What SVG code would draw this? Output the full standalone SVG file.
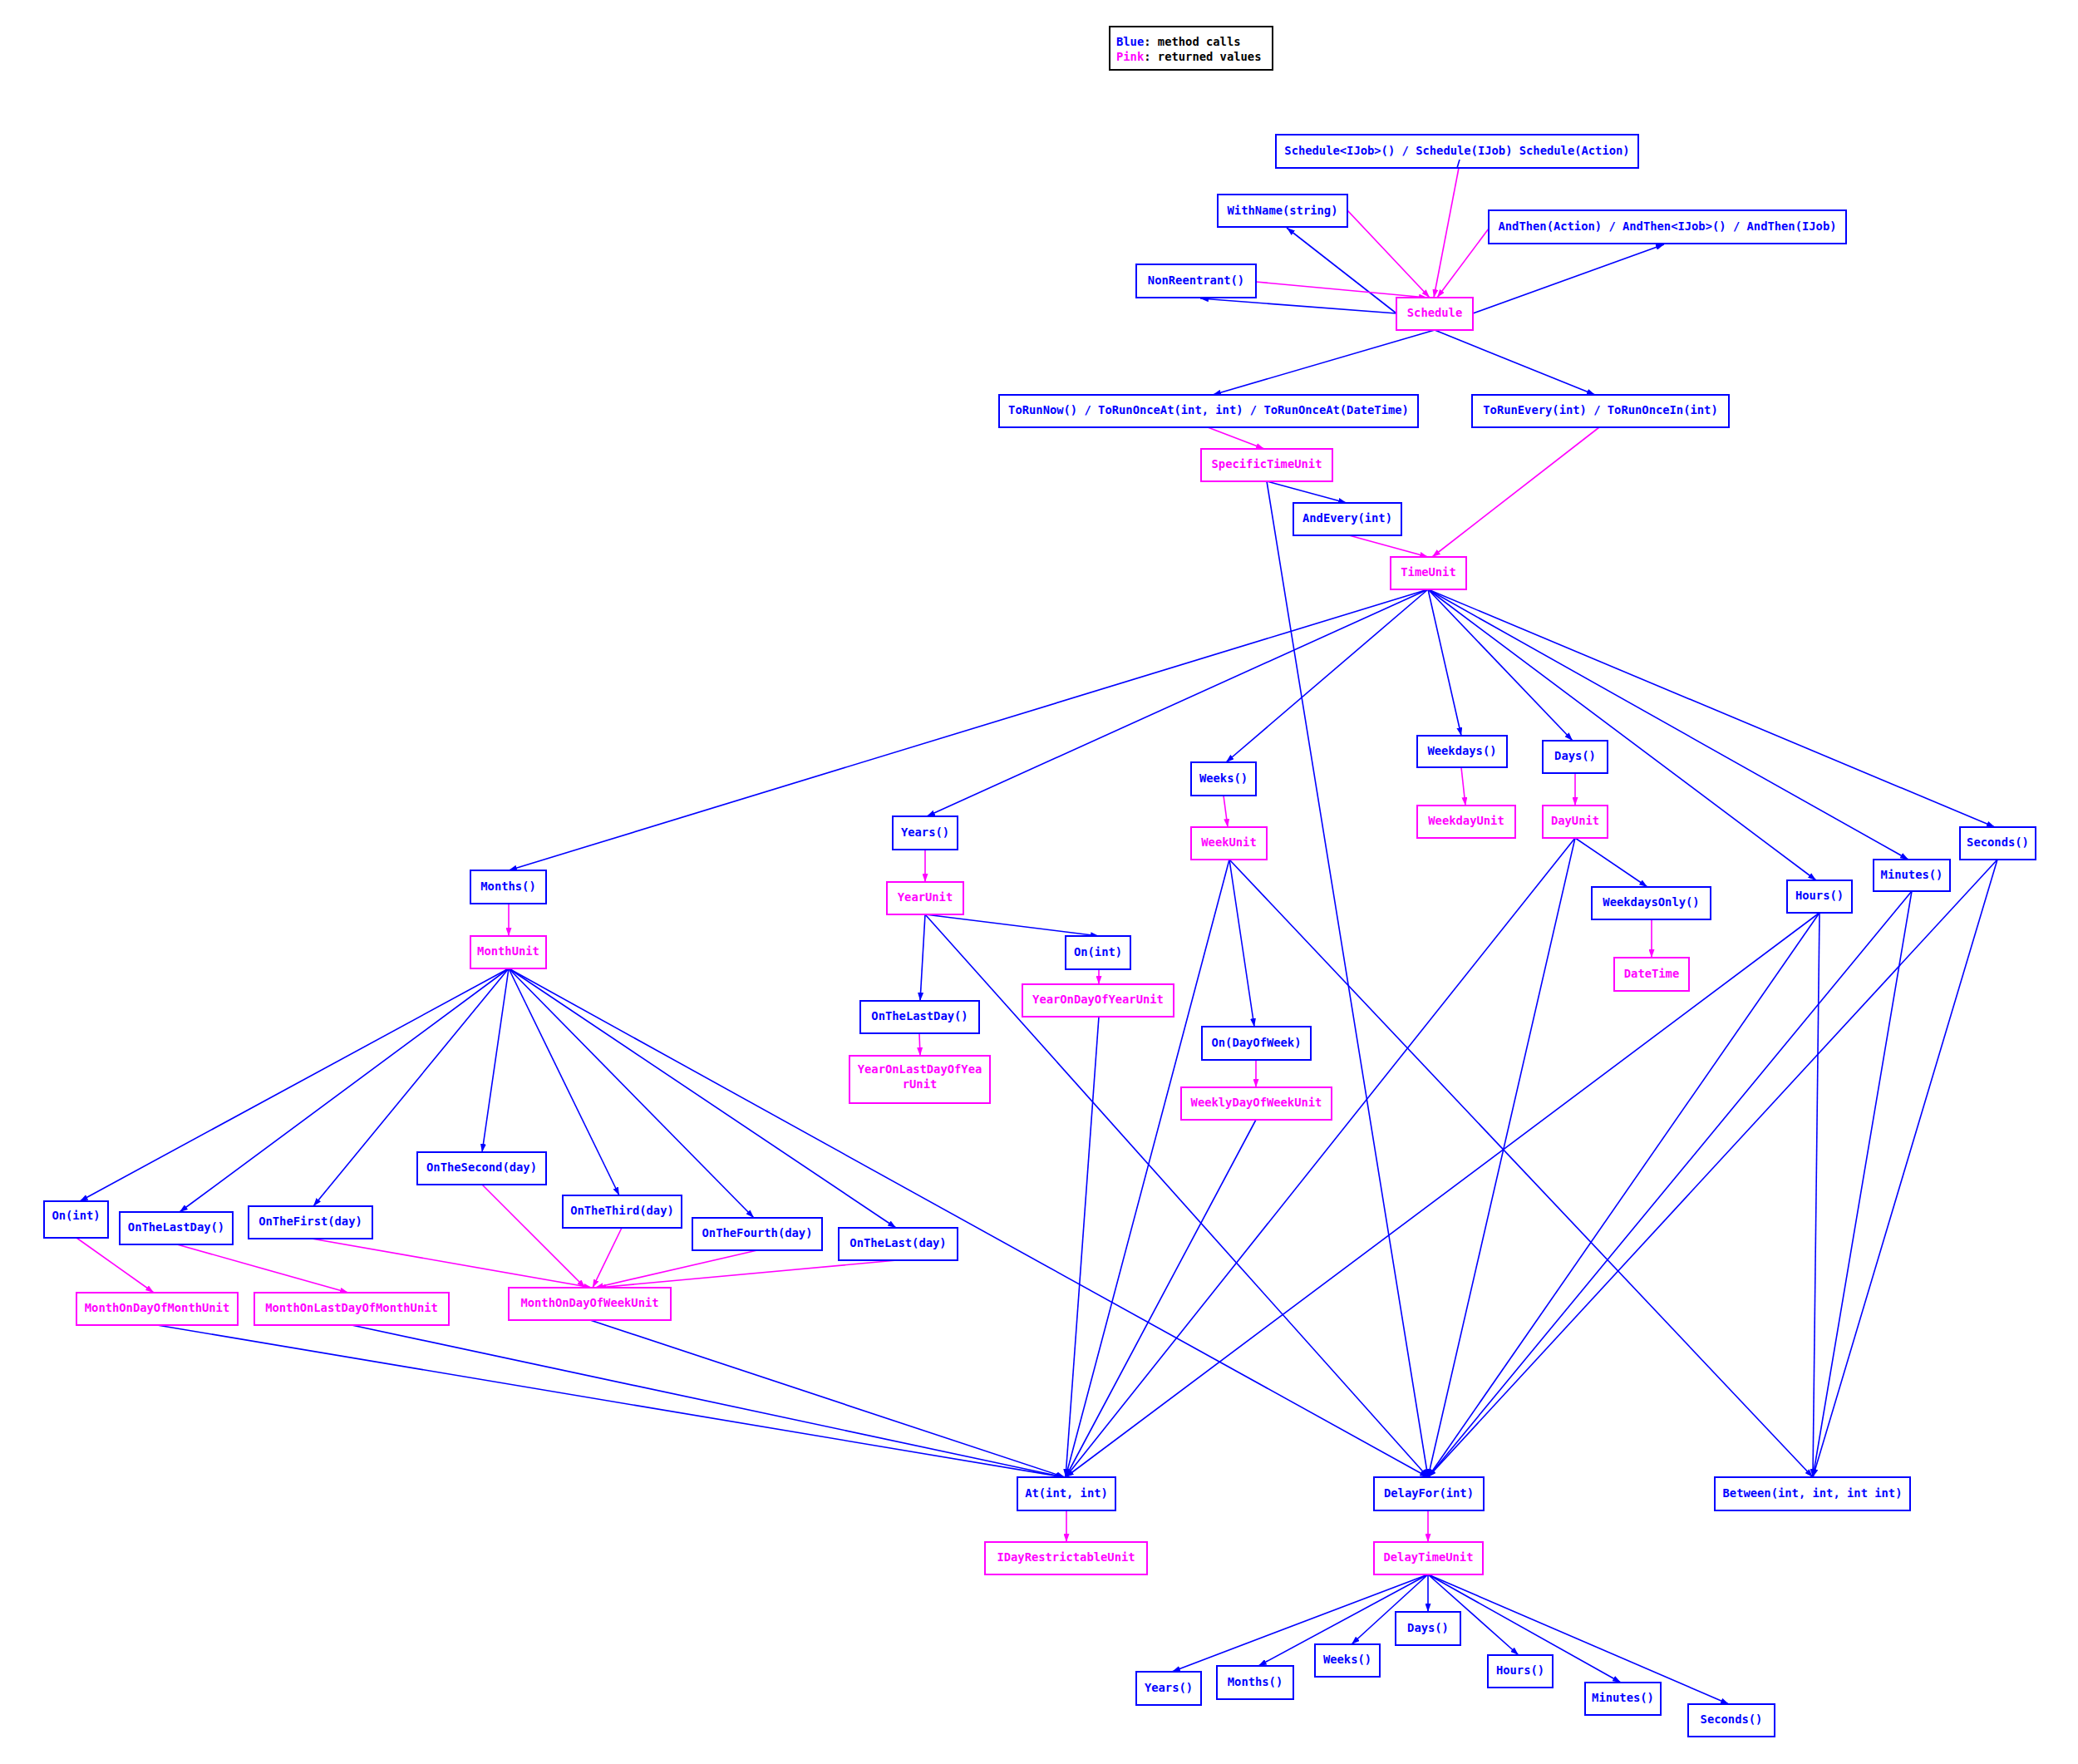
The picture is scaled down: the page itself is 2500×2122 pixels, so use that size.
<svg xmlns="http://www.w3.org/2000/svg" width="2500" height="2122" viewBox="0 0 2500 2122">
<defs>
<style>
text{font-family:"DejaVu Sans Mono","Liberation Mono",monospace;font-size:13.8px;font-weight:bold;text-anchor:middle}
.m rect{fill:#fff;stroke:#00f;stroke-width:2}
.m text{fill:#00f;transform:translateY(-1.5px)}
.r rect{fill:#fff;stroke:#f0f;stroke-width:2}
.r text{fill:#f0f;transform:translateY(-1.5px)}
.eb{stroke:#00f;stroke-width:1.6;fill:none;marker-end:url(#ab)}
.ep{stroke:#f0f;stroke-width:1.6;fill:none;marker-end:url(#ap)}
.lg text{text-anchor:start;fill:#000}
</style>
<marker id="ab" viewBox="0 0 10 7" refX="10" refY="3.5" markerWidth="10" markerHeight="7" markerUnits="userSpaceOnUse" orient="auto"><path d="M0,0L10,3.5L0,7z" fill="#00f"/></marker>
<marker id="ap" viewBox="0 0 10 7" refX="10" refY="3.5" markerWidth="10" markerHeight="7" markerUnits="userSpaceOnUse" orient="auto"><path d="M0,0L10,3.5L0,7z" fill="#f0f"/></marker>
</defs>
<rect width="2500" height="2122" fill="#fff"/>
<g id="edges">
<line class="eb" x1="1680" y1="377" x2="1548" y2="274"/>
<line class="eb" x1="1680" y1="377" x2="1444" y2="359"/>
<line class="eb" x1="1772" y1="377" x2="2002" y2="294"/>
<line class="eb" x1="1726" y1="397" x2="1459" y2="475"/>
<line class="eb" x1="1726" y1="397" x2="1919" y2="475"/>
<line class="eb" x1="1524" y1="579" x2="1620" y2="605"/>
<line class="eb" x1="1524" y1="579" x2="1718" y2="1777"/>
<line class="eb" x1="1718" y1="709" x2="612" y2="1047"/>
<line class="eb" x1="1718" y1="709" x2="1115" y2="982"/>
<line class="eb" x1="1718" y1="709" x2="1475" y2="917"/>
<line class="eb" x1="1718" y1="709" x2="1758" y2="885"/>
<line class="eb" x1="1718" y1="709" x2="1892" y2="891"/>
<line class="eb" x1="1718" y1="709" x2="2185" y2="1059"/>
<line class="eb" x1="1718" y1="709" x2="2296" y2="1034"/>
<line class="eb" x1="1718" y1="709" x2="2400" y2="995"/>
<line class="eb" x1="1895" y1="1008" x2="1982" y2="1067"/>
<line class="eb" x1="1113" y1="1100" x2="1322" y2="1126"/>
<line class="eb" x1="1113" y1="1100" x2="1107" y2="1204"/>
<line class="eb" x1="1113" y1="1100" x2="1718" y2="1777"/>
<line class="eb" x1="1479" y1="1034" x2="1509" y2="1235"/>
<line class="eb" x1="1479" y1="1034" x2="1282" y2="1777"/>
<line class="eb" x1="1479" y1="1034" x2="2181" y2="1777"/>
<line class="eb" x1="1895" y1="1008" x2="1282" y2="1777"/>
<line class="eb" x1="1895" y1="1008" x2="1718" y2="1777"/>
<line class="eb" x1="2189" y1="1098" x2="1282" y2="1777"/>
<line class="eb" x1="2189" y1="1098" x2="1718" y2="1777"/>
<line class="eb" x1="2189" y1="1098" x2="2181" y2="1777"/>
<line class="eb" x1="2300" y1="1072" x2="1718" y2="1777"/>
<line class="eb" x1="2300" y1="1072" x2="2181" y2="1777"/>
<line class="eb" x1="2403" y1="1034" x2="1718" y2="1777"/>
<line class="eb" x1="2403" y1="1034" x2="2181" y2="1777"/>
<line class="eb" x1="1322" y1="1223" x2="1282" y2="1777"/>
<line class="eb" x1="1511" y1="1347" x2="1282" y2="1777"/>
<line class="eb" x1="612" y1="1165" x2="96" y2="1445"/>
<line class="eb" x1="612" y1="1165" x2="216" y2="1458"/>
<line class="eb" x1="612" y1="1165" x2="377" y2="1451"/>
<line class="eb" x1="612" y1="1165" x2="580" y2="1386"/>
<line class="eb" x1="612" y1="1165" x2="745" y2="1438"/>
<line class="eb" x1="612" y1="1165" x2="907" y2="1465"/>
<line class="eb" x1="612" y1="1165" x2="1078" y2="1477"/>
<line class="eb" x1="612" y1="1165" x2="1718" y2="1777"/>
<line class="eb" x1="189" y1="1594" x2="1280" y2="1777"/>
<line class="eb" x1="423" y1="1594" x2="1280" y2="1777"/>
<line class="eb" x1="710" y1="1588" x2="1281" y2="1777"/>
<line class="eb" x1="1718" y1="1894" x2="1410" y2="2011"/>
<line class="eb" x1="1718" y1="1894" x2="1514" y2="2004"/>
<line class="eb" x1="1718" y1="1894" x2="1626" y2="1978"/>
<line class="eb" x1="1718" y1="1894" x2="1718" y2="1939"/>
<line class="eb" x1="1718" y1="1894" x2="1827" y2="1991"/>
<line class="eb" x1="1718" y1="1894" x2="1950" y2="2024"/>
<line class="eb" x1="1718" y1="1894" x2="2080" y2="2050"/>
<line class="ep" x1="1755" y1="202" x2="1725" y2="358"/>
<line class="ep" x1="1621" y1="253" x2="1720" y2="358"/>
<line class="ep" x1="1791" y1="275" x2="1729" y2="358"/>
<line class="ep" x1="1511" y1="339" x2="1717" y2="358"/>
<line class="ep" x1="1453" y1="514" x2="1521" y2="540"/>
<line class="ep" x1="1623" y1="644" x2="1718" y2="670"/>
<line class="ep" x1="1924" y1="514" x2="1723" y2="670"/>
<line class="ep" x1="1472" y1="957" x2="1477" y2="995"/>
<line class="ep" x1="1758" y1="923" x2="1763" y2="969"/>
<line class="ep" x1="1895" y1="930" x2="1895" y2="969"/>
<line class="ep" x1="1113" y1="1022" x2="1113" y2="1061"/>
<line class="ep" x1="612" y1="1087" x2="612" y2="1126"/>
<line class="ep" x1="1987" y1="1106" x2="1987" y2="1152"/>
<line class="ep" x1="1322" y1="1166" x2="1322" y2="1184"/>
<line class="ep" x1="1106" y1="1243" x2="1107" y2="1270"/>
<line class="ep" x1="1511" y1="1275" x2="1511" y2="1308"/>
<line class="ep" x1="92" y1="1489" x2="185" y2="1555"/>
<line class="ep" x1="213" y1="1497" x2="419" y2="1555"/>
<line class="ep" x1="375" y1="1490" x2="712" y2="1549"/>
<line class="ep" x1="580" y1="1425" x2="704" y2="1549"/>
<line class="ep" x1="748" y1="1477" x2="713" y2="1549"/>
<line class="ep" x1="911" y1="1504" x2="716" y2="1549"/>
<line class="ep" x1="1079" y1="1516" x2="719" y2="1549"/>
<line class="ep" x1="1283" y1="1817" x2="1283" y2="1855"/>
<line class="ep" x1="1718" y1="1817" x2="1718" y2="1855"/>
</g>
<g id="legend" class="lg">
<rect x="1335" y="32" width="196" height="52" fill="#fff" stroke="#000" stroke-width="2"/>
<text x="1343" y="55"><tspan fill="#00f">Blue</tspan>: method calls</text>
<text x="1343" y="73"><tspan fill="#f0f">Pink</tspan>: returned values</text>
</g>
<g id="n_schedule_call" class="m"><rect x="1535" y="162" width="436" height="40"/><text x="1753" y="187">Schedule&lt;IJob&gt;() / Schedule(IJob) Schedule(Action)</text></g>
<line x1="1756" y1="192" x2="1753" y2="202" stroke="#00f" stroke-width="1.6"/>
<g id="n_withname" class="m"><rect x="1465" y="234" width="156" height="39"/><text x="1543" y="259">WithName(string)</text></g>
<g id="n_andthen" class="m"><rect x="1791" y="253" width="430" height="40"/><text x="2006" y="278">AndThen(Action) / AndThen&lt;IJob&gt;() / AndThen(IJob)</text></g>
<g id="n_nonreentrant" class="m"><rect x="1367" y="318" width="144" height="40"/><text x="1439" y="343">NonReentrant()</text></g>
<g id="n_schedule" class="r"><rect x="1680" y="358" width="92" height="39"/><text x="1726" y="382.5">Schedule</text></g>
<g id="n_torunnow" class="m"><rect x="1202" y="475" width="504" height="39"/><text x="1454" y="499.5">ToRunNow() / ToRunOnceAt(int, int) / ToRunOnceAt(DateTime)</text></g>
<g id="n_torunevery" class="m"><rect x="1771" y="475" width="309" height="39"/><text x="1925.5" y="499.5">ToRunEvery(int) / ToRunOnceIn(int)</text></g>
<g id="n_specific" class="r"><rect x="1445" y="540" width="158" height="39"/><text x="1524" y="564.5">SpecificTimeUnit</text></g>
<g id="n_andevery" class="m"><rect x="1556" y="605" width="130" height="39"/><text x="1621" y="629.5">AndEvery(int)</text></g>
<g id="n_timeunit" class="r"><rect x="1673" y="670" width="91" height="39"/><text x="1718.5" y="694.5">TimeUnit</text></g>
<g id="n_weekdays" class="m"><rect x="1705" y="885" width="108" height="38"/><text x="1759" y="909">Weekdays()</text></g>
<g id="n_days" class="m"><rect x="1856" y="891" width="78" height="39"/><text x="1895" y="915.5">Days()</text></g>
<g id="n_weeks" class="m"><rect x="1433" y="917" width="78" height="40"/><text x="1472" y="942">Weeks()</text></g>
<g id="n_years" class="m"><rect x="1074" y="982" width="78" height="40"/><text x="1113" y="1007">Years()</text></g>
<g id="n_seconds" class="m"><rect x="2358" y="995" width="91" height="39"/><text x="2403.5" y="1019.5">Seconds()</text></g>
<g id="n_minutes" class="m"><rect x="2254" y="1034" width="92" height="38"/><text x="2300" y="1058">Minutes()</text></g>
<g id="n_hours" class="m"><rect x="2150" y="1059" width="78" height="39"/><text x="2189" y="1083.5">Hours()</text></g>
<g id="n_months" class="m"><rect x="566" y="1047" width="91" height="40"/><text x="611.5" y="1072">Months()</text></g>
<g id="n_weekdayunit" class="r"><rect x="1705" y="969" width="118" height="39"/><text x="1764" y="993.5">WeekdayUnit</text></g>
<g id="n_dayunit" class="r"><rect x="1856" y="969" width="78" height="39"/><text x="1895" y="993.5">DayUnit</text></g>
<g id="n_weekunit" class="r"><rect x="1433" y="995" width="91" height="39"/><text x="1478.5" y="1019.5">WeekUnit</text></g>
<g id="n_yearunit" class="r"><rect x="1067" y="1061" width="92" height="39"/><text x="1113" y="1085.5">YearUnit</text></g>
<g id="n_monthunit" class="r"><rect x="566" y="1126" width="91" height="39"/><text x="611.5" y="1150.5">MonthUnit</text></g>
<g id="n_weekdaysonly" class="m"><rect x="1915" y="1067" width="143" height="39"/><text x="1986.5" y="1091.5">WeekdaysOnly()</text></g>
<g id="n_datetime" class="r"><rect x="1942" y="1152" width="90" height="40"/><text x="1987" y="1177">DateTime</text></g>
<g id="n_on_year" class="m"><rect x="1282" y="1126" width="78" height="40"/><text x="1321" y="1151">On(int)</text></g>
<g id="n_yearondoy" class="r"><rect x="1230" y="1184" width="182" height="39"/><text x="1321" y="1208.5">YearOnDayOfYearUnit</text></g>
<g id="n_lastday_year" class="m"><rect x="1035" y="1204" width="143" height="39"/><text x="1106.5" y="1228.5">OnTheLastDay()</text></g>
<g id="n_yearonlast" class="r"><rect x="1022" y="1270" width="169" height="57"/><text x="1106.5" y="1292">YearOnLastDayOfYea</text><text x="1106.5" y="1310">rUnit</text></g>
<g id="n_on_dow" class="m"><rect x="1446" y="1235" width="131" height="40"/><text x="1511.5" y="1260">On(DayOfWeek)</text></g>
<g id="n_weeklydow" class="r"><rect x="1421" y="1308" width="181" height="39"/><text x="1511.5" y="1332.5">WeeklyDayOfWeekUnit</text></g>
<g id="n_m_on" class="m"><rect x="53" y="1445" width="77" height="44"/><text x="91.5" y="1468">On(int)</text></g>
<g id="n_m_lastday" class="m"><rect x="144" y="1458" width="136" height="39"/><text x="212" y="1482.5">OnTheLastDay()</text></g>
<g id="n_m_first" class="m"><rect x="299" y="1451" width="149" height="39"/><text x="373.5" y="1475.5">OnTheFirst(day)</text></g>
<g id="n_m_second" class="m"><rect x="502" y="1386" width="155" height="39"/><text x="579.5" y="1410.5">OnTheSecond(day)</text></g>
<g id="n_m_third" class="m"><rect x="677" y="1438" width="143" height="39"/><text x="748.5" y="1462.5">OnTheThird(day)</text></g>
<g id="n_m_fourth" class="m"><rect x="833" y="1465" width="156" height="39"/><text x="911" y="1489.5">OnTheFourth(day)</text></g>
<g id="n_m_last" class="m"><rect x="1009" y="1477" width="143" height="39"/><text x="1080.5" y="1501.5">OnTheLast(day)</text></g>
<g id="n_modom" class="r"><rect x="92" y="1555" width="194" height="39"/><text x="189" y="1579.5">MonthOnDayOfMonthUnit</text></g>
<g id="n_molodom" class="r"><rect x="306" y="1555" width="234" height="39"/><text x="423" y="1579.5">MonthOnLastDayOfMonthUnit</text></g>
<g id="n_modow" class="r"><rect x="612" y="1549" width="195" height="39"/><text x="709.5" y="1573.5">MonthOnDayOfWeekUnit</text></g>
<g id="n_at" class="m"><rect x="1224" y="1777" width="118" height="40"/><text x="1283" y="1802">At(int, int)</text></g>
<g id="n_delayfor" class="m"><rect x="1653" y="1777" width="132" height="40"/><text x="1719" y="1802">DelayFor(int)</text></g>
<g id="n_between" class="m"><rect x="2063" y="1777" width="235" height="40"/><text x="2180.5" y="1802">Between(int, int, int int)</text></g>
<g id="n_idayr" class="r"><rect x="1185" y="1855" width="195" height="39"/><text x="1282.5" y="1879.5">IDayRestrictableUnit</text></g>
<g id="n_delaytu" class="r"><rect x="1653" y="1855" width="131" height="39"/><text x="1718.5" y="1879.5">DelayTimeUnit</text></g>
<g id="n_d_years" class="m"><rect x="1367" y="2011" width="78" height="40"/><text x="1406" y="2036">Years()</text></g>
<g id="n_d_months" class="m"><rect x="1464" y="2004" width="92" height="40"/><text x="1510" y="2029">Months()</text></g>
<g id="n_d_weeks" class="m"><rect x="1582" y="1978" width="78" height="39"/><text x="1621" y="2002.5">Weeks()</text></g>
<g id="n_d_days" class="m"><rect x="1679" y="1939" width="78" height="40"/><text x="1718" y="1964">Days()</text></g>
<g id="n_d_hours" class="m"><rect x="1790" y="1991" width="78" height="39"/><text x="1829" y="2015.5">Hours()</text></g>
<g id="n_d_minutes" class="m"><rect x="1907" y="2024" width="91" height="39"/><text x="1952.5" y="2048.5">Minutes()</text></g>
<g id="n_d_seconds" class="m"><rect x="2031" y="2050" width="104" height="39"/><text x="2083" y="2074.5">Seconds()</text></g>
</svg>
